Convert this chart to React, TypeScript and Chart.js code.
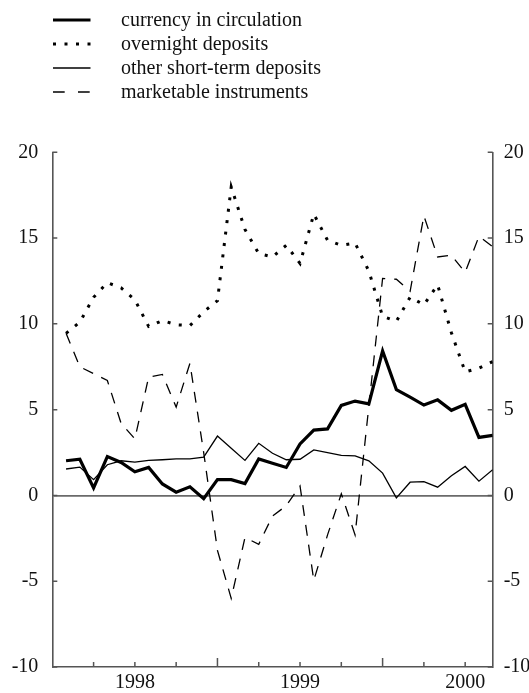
import { useEffect, useRef } from 'react';
import { Chart, registerables } from 'chart.js';

Chart.register(...registerables);

// Monthly observations, Jan 1998 – Aug 2000
const months = [
  '1998-01', '1998-02', '1998-03', '1998-04', '1998-05', '1998-06', '1998-07', '1998-08', '1998-09', '1998-10', '1998-11', '1998-12',
  '1999-01', '1999-02', '1999-03', '1999-04', '1999-05', '1999-06', '1999-07', '1999-08', '1999-09', '1999-10', '1999-11', '1999-12',
  '2000-01', '2000-02', '2000-03', '2000-04', '2000-05', '2000-06', '2000-07', '2000-08',
];

const yearLabels = ['1998', '1999', '2000'];
const yearLabelMonths = [6, 18, 30];
const yTicks = [-10, -5, 0, 5, 10, 15, 20];

const currency = [2.02, 2.11, 0.44, 2.27, 1.92, 1.38, 1.63, 0.67, 0.19, 0.5, -0.19, 0.92, 0.92, 0.69, 2.13, 1.88, 1.63, 3.0, 3.81, 3.88, 5.25, 5.5, 5.34, 8.42, 6.17, 5.73, 5.27, 5.57, 4.96, 5.31, 3.38, 3.5];
const overnight = [9.45, 10.1, 11.55, 12.4, 12.1, 11.4, 9.85, 10.19, 9.95, 9.9, 10.7, 11.35, 17.98, 15.5, 14.1, 13.9, 14.58, 13.52, 16.4, 14.87, 14.58, 14.71, 13.08, 10.44, 10.15, 11.56, 11.11, 12.27, 9.48, 7.2, 7.42, 7.8];
const otherShortTerm = [1.54, 1.65, 0.92, 1.79, 2.02, 1.94, 2.04, 2.08, 2.13, 2.13, 2.23, 3.46, 2.75, 2.04, 3.04, 2.46, 2.08, 2.11, 2.65, 2.5, 2.34, 2.31, 2.02, 1.3, -0.14, 0.77, 0.81, 0.48, 1.15, 1.69, 0.83, 1.5];
const marketable = [9.45, 7.5, 7.1, 6.7, 4.2, 3.3, 6.9, 7.05, 5.15, 7.7, 2.5, -3.2, -6.0, -2.45, -2.85, -1.2, -0.6, 0.55, -4.95, -2.3, 0.1, -2.3, 5.2, 12.65, 12.6, 11.9, 16.3, 13.9, 14.0, 13.0, 15.1, 14.5];

const FONT = "'Liberation Serif', 'Times New Roman', serif";
const AXIS_COLOR = '#555';

const toPoints = (vals: number[]) => vals.map((v, i) => ({ x: i + 1, y: v }));

const legendPlugin = {
  id: 'customLegend',
  afterDraw(chart: any) {
    const { ctx } = chart;
    ctx.save();
    ctx.font = `20px ${FONT}`;
    ctx.textBaseline = 'middle';
    ctx.fillStyle = '#111';
    const legendDashes: (number[] | undefined)[] = [[], [3, 8.5], [], [11.7, 13.3]];
    chart.data.datasets.forEach((ds: any, i: number) => {
      const y = 20 + i * 24;
      ctx.beginPath();
      ctx.lineCap = 'butt';
      ctx.strokeStyle = ds.borderColor;
      ctx.lineWidth = ds.borderWidth;
      ctx.setLineDash(legendDashes[i] || []);
      ctx.moveTo(53, y);
      ctx.lineTo(90.5, y);
      ctx.stroke();
      ctx.setLineDash([]);
      ctx.fillText(ds.label, 121, y + 1);
    });
    ctx.restore();
  },
};

const tickPlugin = {
  id: 'innerTicks',
  afterDraw(chart: any) {
    const { ctx, chartArea: a, scales } = chart;
    ctx.save();
    ctx.strokeStyle = AXIS_COLOR;
    ctx.lineWidth = 1.5;
    ctx.beginPath();
    for (const v of yTicks) {
      const py = scales.y.getPixelForValue(v);
      ctx.moveTo(a.left, py);
      ctx.lineTo(a.left + 5, py);
      ctx.moveTo(a.right, py);
      ctx.lineTo(a.right - 5, py);
    }
    for (let m = 3; m < months.length; m += 3) {
      const px = scales.x.getPixelForValue(m);
      const len = m % 12 === 0 ? 9 : 5;
      ctx.moveTo(px, a.bottom);
      ctx.lineTo(px, a.bottom - len);
    }
    ctx.stroke();
    ctx.restore();
  },
};

export default function App() {
  const canvasRef = useRef<HTMLCanvasElement>(null);

  useEffect(() => {
    if (!canvasRef.current) return;
    const tickFont = { family: FONT, size: 20 };
    const chart = new Chart(canvasRef.current, {
      type: 'line',
      data: {
        datasets: [
          {
            label: 'currency in circulation',
            data: toPoints(currency),
            borderColor: '#000',
            borderWidth: 3.2,
            pointRadius: 0,
            tension: 0,
            yAxisID: 'y',
          },
          {
            label: 'overnight deposits',
            data: toPoints(overnight),
            borderColor: '#000',
            borderWidth: 3,
            borderDash: [3, 8.5],
            borderCapStyle: 'butt',
            pointRadius: 0,
            tension: 0,
            yAxisID: 'y',
          },
          {
            label: 'other short-term deposits',
            data: toPoints(otherShortTerm),
            borderColor: '#000',
            borderWidth: 1.3,
            pointRadius: 0,
            tension: 0,
            yAxisID: 'y',
          },
          {
            label: 'marketable instruments',
            data: toPoints(marketable),
            borderColor: '#000',
            borderWidth: 1.3,
            borderDash: [11, 9],
            pointRadius: 0,
            tension: 0,
            yAxisID: 'y',
          },
        ],
      },
      options: {
        animation: false,
        responsive: false,
        layout: { padding: { top: 152.3, left: 0, right: 0, bottom: 0 } },
        plugins: { legend: { display: false }, tooltip: { enabled: false } },
        scales: {
          x: {
            type: 'linear',
            position: 'bottom',
            min: 0,
            max: months.length,
            grid: { display: false, drawTicks: false },
            border: { display: true, color: AXIS_COLOR, width: 1.6 },
            afterBuildTicks: (s: any) => {
              s.ticks = yearLabelMonths.map((v) => ({ value: v }));
            },
            afterFit: (s: any) => {
              s.height = 21;
            },
            ticks: {
              autoSkip: false,
              maxRotation: 0,
              padding: 4,
              color: '#111',
              font: tickFont,
              callback: (v: any) => {
                const idx = yearLabelMonths.indexOf(Number(v));
                return idx >= 0 ? yearLabels[idx] : '';
              },
            },
          },
          y: {
            type: 'linear',
            position: 'left',
            min: -10,
            max: 20,
            afterBuildTicks: (s: any) => {
              s.ticks = yTicks.map((v) => ({ value: v }));
            },
            afterFit: (s: any) => {
              s.width = 52.3;
            },
            grid: {
              drawTicks: false,
              color: (c: any) => (c.tick && c.tick.value === 0 ? '#6a6a6a' : 'rgba(0,0,0,0)'),
              lineWidth: 1.8,
            },
            border: { display: true, color: AXIS_COLOR, width: 1.6 },
            ticks: { padding: 14, color: '#111', font: tickFont },
          },
          y2: {
            type: 'linear',
            position: 'right',
            min: -10,
            max: 20,
            afterBuildTicks: (s: any) => {
              s.ticks = yTicks.map((v) => ({ value: v }));
            },
            afterFit: (s: any) => {
              s.width = 36.3;
            },
            grid: { display: false, drawTicks: false },
            border: { display: true, color: AXIS_COLOR, width: 1.6 },
            ticks: { padding: 11, color: '#111', font: tickFont },
          },
        },
      },
      plugins: [legendPlugin, tickPlugin],
    } as any);
    return () => chart.destroy();
  }, []);

  return (
    <div style={{ position: 'absolute', left: 0, top: 0, width: 529, height: 693, background: '#fff' }}>
      <canvas ref={canvasRef} width={529} height={693} style={{ display: 'block', width: 529, height: 693 }} />
    </div>
  );
}
